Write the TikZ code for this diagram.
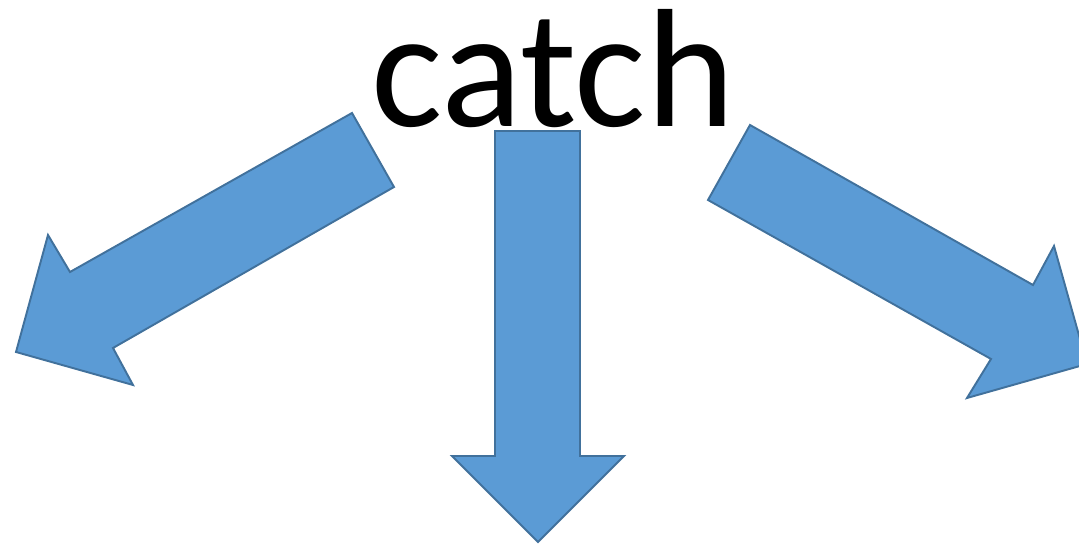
\documentclass[tikz,border=0pt]{standalone}
\usepackage{fontspec}
\setmainfont{Carlito}
\definecolor{arfill}{HTML}{5B9BD5}
\definecolor{arline}{HTML}{41719C}

\begin{document}
\begin{tikzpicture}[x=0.02cm,y=-0.02cm,
  blockarrow/.style={fill=arfill,draw=arline,line width=1.1pt,line join=miter},
  word/.style={font=\fontsize{96}{104}\selectfont,inner sep=0pt}]
  \useasboundingbox (0,0) rectangle (1079,547);
  \node[word,anchor=base] (catch) at (553,127) {catch};
  % left arrow
  \draw[blockarrow] (352,113) -- (394,187) -- (113,348) -- (133,385) -- (16,352) -- (48,235) -- (70,272) -- cycle;
  % middle arrow
  \draw[blockarrow] (495,131) -- (580,131) -- (580,456) -- (624,456) -- (538,542) -- (452,456) -- (495,456) -- cycle;
  % right arrow
  \draw[blockarrow] (750,125) -- (708,200) -- (991,359) -- (967,398) -- (1087,364) -- (1054,246) -- (1033,285) -- cycle;
\end{tikzpicture}
\end{document}
